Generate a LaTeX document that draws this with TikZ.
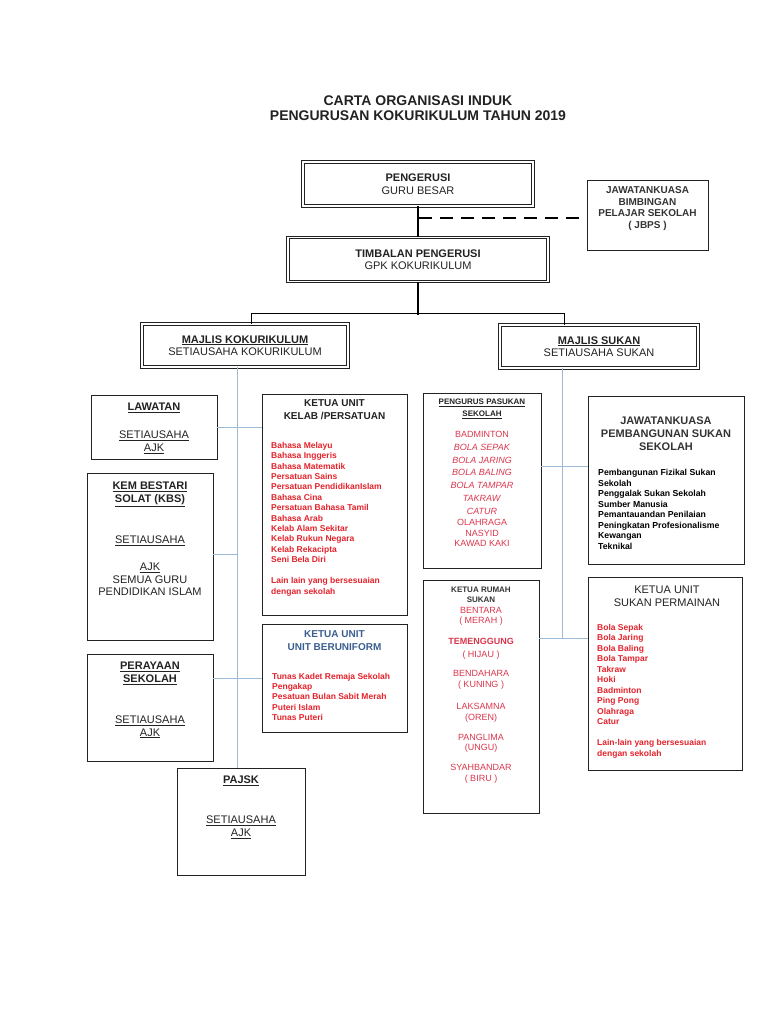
\documentclass[tikz,border=0pt]{standalone}
\usepackage{fontspec}
\setmainfont{Liberation Sans}
\usepackage{tikz}

\definecolor{inkgray}{HTML}{222222}
\definecolor{listred}{HTML}{E3222B}
\definecolor{sportred}{HTML}{D9364C}
\definecolor{unitblue}{HTML}{3A5F8F}
\definecolor{linkblue}{HTML}{9DBAD6}

\begin{document}
\begin{tikzpicture}[x=1pt, y=-1pt,
    every node/.style={text=inkgray, inner sep=0pt},
    plainbox/.style={draw=inkgray, line width=0.9pt, rectangle},
    doublebox/.style={draw=inkgray, double, double distance=1.5pt, line width=0.8pt, rectangle,
        align=center, font=\fontsize{11}{12.5}\selectfont},
    words/.style={align=center, anchor=north},
    redlist/.style={align=left, anchor=north west, text=listred, font=\bfseries\fontsize{8.5}{10.4}\selectfont},
    sportlist/.style={align=center, anchor=north, text=sportred, font=\fontsize{9}{10.6}\selectfont},
    blueline/.style={draw=linkblue, line width=0.8pt},
    trunk/.style={draw=black, line width=2.4pt}]
\useasboundingbox (0,0) rectangle (768,1024);

\node [words, font=\bfseries\fontsize{14}{15}\selectfont] (title) at (418,96)
    {CARTA ORGANISASI INDUK\\PENGURUSAN KOKURIKULUM TAHUN 2019};

\node [doublebox, minimum width=230pt, minimum height=44pt] (pengerusi) at (418,184)
    {\textbf{PENGERUSI}\\GURU BESAR};
\node [doublebox, minimum width=260pt, minimum height=44pt] (timbalan) at (418,259.5)
    {\textbf{TIMBALAN PENGERUSI}\\GPK KOKURIKULUM};
\node [plainbox, minimum width=121pt, minimum height=70pt] (jbps) at (647.5,215) {};
\node [words, text=black!80, font=\bfseries\fontsize{10}{11.7}\selectfont] (jbps-text) at (647.5,186.4)
    {JAWATANKUASA\\BIMBINGAN\\PELAJAR SEKOLAH\\( JBPS )};

\node [doublebox, minimum width=206pt, minimum height=43pt] (koko) at (245,345.5)
    {\underline{\textbf{MAJLIS KOKURIKULUM}}\\SETIAUSAHA KOKURIKULUM};
\node [doublebox, minimum width=198pt, minimum height=43pt] (sukan) at (599,346.5)
    {\underline{\textbf{MAJLIS SUKAN}}\\SETIAUSAHA SUKAN};

% kokurikulum side
\node [plainbox, minimum width=126pt, minimum height=64pt] (lawatan) at (154,427) {};
\node [words, font=\fontsize{11}{13}\selectfont] (lawatan-text) at (154,403)
    {\underline{\textbf{LAWATAN}}\\[15pt]\underline{SETIAUSAHA}\\\underline{AJK}};
\node [plainbox, minimum width=126pt, minimum height=167pt] (kbs) at (150,556.5) {};
\node [words, font=\fontsize{11}{12.8}\selectfont] (kbs-text) at (150,482)
    {\underline{\textbf{KEM BESTARI}}\\\underline{\textbf{SOLAT (KBS)}}\\[28.5pt]\underline{SETIAUSAHA}\\[13.5pt]
     \underline{AJK}\\SEMUA GURU\\PENDIDIKAN ISLAM};
\node [plainbox, minimum width=126pt, minimum height=107pt] (perayaan) at (150,707.5) {};
\node [words, font=\fontsize{11}{12.8}\selectfont] (perayaan-text) at (150,662)
    {\underline{\textbf{PERAYAAN}}\\\underline{\textbf{SEKOLAH}}\\[28pt]\underline{SETIAUSAHA}\\\underline{AJK}};
\node [plainbox, minimum width=128pt, minimum height=107pt] (pajsk) at (241,821.5) {};
\node [words, font=\fontsize{11}{13}\selectfont] (pajsk-text) at (241,776)
    {\underline{\textbf{PAJSK}}\\[27pt]\underline{SETIAUSAHA}\\\underline{AJK}};

\node [plainbox, minimum width=145pt, minimum height=221pt] (kelab) at (334.5,504.5) {};
\node [words, font=\bfseries\fontsize{10}{13}\selectfont] (kelab-text) at (334.5,399.4)
    {KETUA UNIT\\KELAB /PERSATUAN};
\node [redlist] (kelab-list) at (271,442)
    {Bahasa Melayu\\Bahasa Inggeris\\Bahasa Matematik\\Persatuan Sains\\Persatuan PendidikanIslam\\
     Bahasa Cina\\Persatuan Bahasa Tamil\\Bahasa Arab\\Kelab Alam Sekitar\\Kelab Rukun Negara\\
     Kelab Rekacipta\\Seni Bela Diri\\[10.6pt]Lain lain yang bersesuaian\\dengan sekolah};
\node [plainbox, minimum width=145pt, minimum height=108pt] (beruniform) at (334.5,678) {};
\node [words, text=unitblue, font=\bfseries\fontsize{10}{13}\selectfont] (beruniform-text) at (334.5,630.4)
    {KETUA UNIT\\UNIT BERUNIFORM};
\node [redlist, font=\bfseries\fontsize{8.5}{10.25}\selectfont] (beruniform-list) at (272,673)
    {Tunas Kadet Remaja Sekolah\\Pengakap\\Pesatuan Bulan Sabit Merah\\Puteri Islam\\Tunas Puteri};

% sukan side
\node [plainbox, minimum width=118pt, minimum height=175pt] (pasukan) at (482,480.5) {};
\node [words, font=\bfseries\fontsize{8}{12}\selectfont] (pasukan-text) at (482,399.2)
    {\underline{PENGURUS PASUKAN}\\\underline{SEKOLAH}};
\node [sportlist, font=\fontsize{9}{10.7}\selectfont] (pasukan-list) at (482,430.8)
    {BADMINTON\\[2.2pt]\textit{BOLA SEPAK}\\[2.2pt]\textit{BOLA JARING}\\[2.2pt]\textit{BOLA BALING}\\[2.2pt]
     \textit{BOLA TAMPAR}\\[2.2pt]\textit{TAKRAW}\\[2.2pt]\textit{CATUR}\\OLAHRAGA\\NASYID\\KAWAD KAKI};

\node [plainbox, minimum width=156pt, minimum height=168pt] (jpss) at (666,480) {};
\node [words, text=black!80, font=\bfseries\fontsize{11}{13}\selectfont] (jpss-text) at (666,417)
    {JAWATANKUASA\\PEMBANGUNAN SUKAN\\SEKOLAH};
\node [redlist, text=black, font=\bfseries\fontsize{8.7}{10.5}\selectfont] (jpss-list) at (598,469)
    {Pembangunan Fizikal Sukan\\Sekolah\\Penggalak Sukan Sekolah\\Sumber Manusia\\
     Pemantauandan Penilaian\\Peningkatan Profesionalisme\\Kewangan\\Teknikal};

\node [plainbox, minimum width=116pt, minimum height=233pt] (rumah) at (481,696.5) {};
\node [words, text=black!80, font=\bfseries\fontsize{8}{10}\selectfont] (rumah-text) at (481,587.1)
    {KETUA RUMAH\\SUKAN};
\node [sportlist] (rumah-list) at (481,606.8)
    {BENTARA\\( MERAH )\\[10.4pt]\textbf{TEMENGGUNG}\\[2.4pt]( HIJAU )\\[8.4pt]BENDAHARA\\( KUNING )\\[11.4pt]
     LAKSAMNA\\(OREN)\\[9.4pt]PANGLIMA\\(UNGU)\\[9.4pt]SYAHBANDAR\\( BIRU )};

\node [plainbox, minimum width=154pt, minimum height=193pt] (permainan) at (665,673.5) {};
\node [words, font=\fontsize{11}{13}\selectfont] (permainan-text) at (667,586)
    {KETUA UNIT\\SUKAN PERMAINAN};
\node [redlist, font=\bfseries\fontsize{8.5}{10.5}\selectfont] (permainan-list) at (597,624)
    {Bola Sepak\\Bola Jaring\\Bola Baling\\Bola Tampar\\Takraw\\Hoki\\Badminton\\Ping Pong\\
     Olahraga\\Catur\\[10.5pt]Lain-lain yang bersesuaian\\dengan sekolah};

% connectors
\coordinate (dash-start) at (419,218);
\coordinate (split) at (418,313);
\coordinate (koko-drop) at (251,313);
\coordinate (sukan-drop) at (564,313);
\coordinate (koko-spine) at (237,0);
\coordinate (sukan-spine) at (562,638);

\draw [trunk] (pengerusi.south) -- (timbalan.north);
\draw [trunk] (timbalan.south) -- ([yshift=-2pt]split);
\draw [trunk, line width=2.6pt, dash pattern=on 13pt off 8pt] (dash-start) -- (dash-start -| jbps.west);
\draw [black, line width=1pt] (koko-drop) -- (sukan-drop);
\draw [black, line width=1pt] (koko-drop) -- (koko-drop |- koko.north);
\draw [black, line width=1pt] (sukan-drop) -- (sukan-drop |- sukan.north);

\draw [blueline] (koko.south -| koko-spine) -- (pajsk.north -| koko-spine);
\draw [blueline] (lawatan.east) -- (lawatan.east -| kelab.west);
\draw [blueline] ([yshift=2pt]kbs.east) -- ([yshift=2pt]kbs.east -| koko-spine);
\draw [blueline] (beruniform.west -| perayaan.east) -- (beruniform.west);

\draw [blueline] (sukan.south -| sukan-spine) -- (sukan-spine);
\draw [blueline] ([yshift=14.5pt]pasukan.east) -- ([yshift=14.5pt]pasukan.east -| jpss.west);
\draw [blueline] (rumah.east |- sukan-spine) -- (permainan.west |- sukan-spine);
\end{tikzpicture}
\end{document}
